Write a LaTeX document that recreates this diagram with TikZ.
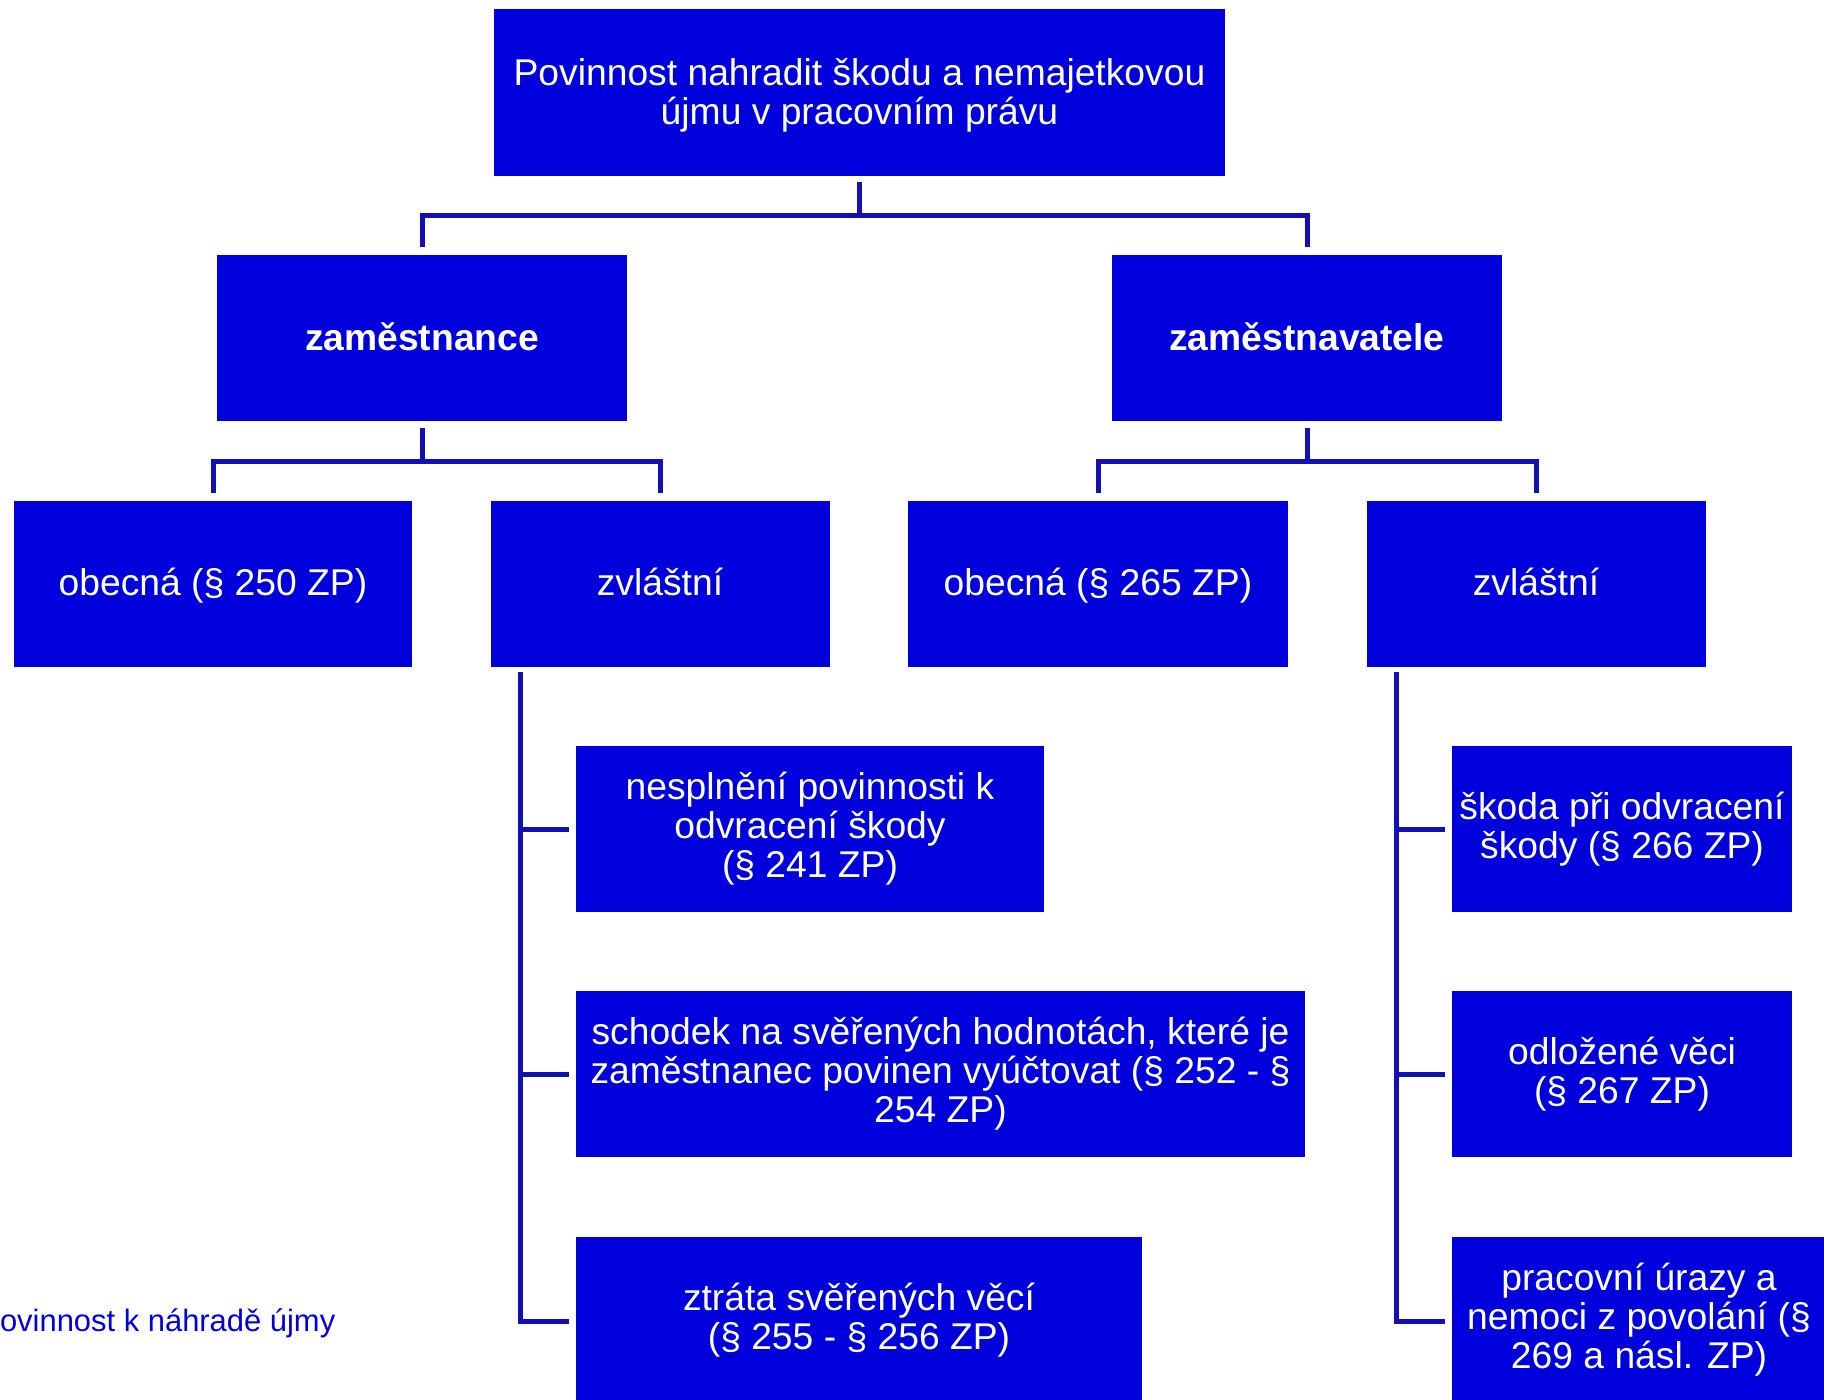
\documentclass[tikz,border=0pt]{standalone}
\usepackage{fontspec}
\setmainfont{Liberation Sans}
\usepackage{tikz}
\usetikzlibrary{calc,positioning}
\definecolor{colorbox}{HTML}{0000DD}
\definecolor{colorln}{HTML}{1010B4}
\tikzset{
  box/.style={fill=colorbox, text=white, inner sep=0pt, align=center, minimum height=1.66cm,
    font=\fontsize{10.6pt}{11.1pt}\selectfont},
  boxone/.style={box, text height=0.32cm, text depth=0.08cm},
  link/.style={colorln, line width=0.05cm}
}

\begin{document}
\begin{tikzpicture}
\useasboundingbox (0,0) rectangle (18.24,-14.00);
\node[box, minimum width=7.31cm, minimum height=1.67cm] (top) at (8.595,-0.925) {};
\node[align=center, text=white, inner sep=0pt, font=\fontsize{10.6pt}{11.1pt}\selectfont] (toptxt) at (8.595,-0.95) {Povinnost nahradit škodu a nemajetkovou\\újmu v pracovním právu};
\node[boxone, minimum width=4.10cm] (zam) at (4.22,-3.38) {\textbf{zaměstnance}};
\node[boxone, minimum width=3.90cm] (zav) at (13.07,-3.38) {\textbf{zaměstnavatele}};
\node[boxone, minimum width=3.98cm] (ob1) at (2.13,-5.835) {obecná (§ 250 ZP)};
\node[boxone, minimum width=3.39cm] (zv1) at (6.60,-5.835) {zvláštní};
\node[boxone, minimum width=3.80cm] (ob2) at (10.98,-5.835) {obecná (§ 265 ZP)};
\node[boxone, minimum width=3.39cm] (zv2) at (15.36,-5.835) {zvláštní};
\node[box, minimum width=4.68cm] (nespl) at (8.10,-8.29) {nesplnění povinnosti k\\odvracení škody\\(§ 241 ZP)};
\node[box, minimum width=7.29cm] (schod) at (9.405,-10.74) {schodek na svěřených hodnotách, které je\\zaměstnanec povinen vyúčtovat (§ 252 - §\\254 ZP)};
\node[box, minimum width=5.66cm] (ztrata) at (8.59,-13.20) {ztráta svěřených věcí\\(§ 255 - § 256 ZP)};
\node[box, minimum width=3.40cm] (skoda) at (16.22,-8.29) {škoda při odvracení\\škody (§ 266 ZP)};
\node[box, minimum width=3.40cm] (odloz) at (16.22,-10.74) {odložené věci\\(§ 267 ZP)};
\node[box, minimum width=3.74cm] (uraz) at (16.39,-13.20) {pracovní úrazy a\\nemoci z povolání (§\\269 a násl. ZP)};
\node[anchor=east, inner sep=0pt, text=colorbox, font=\fontsize{8.8pt}{9pt}\selectfont] (pozn) at (3.36,-13.23) {Povinnost k náhradě újmy};

\draw[link] ([yshift=-0.05cm]top.south) -- ([yshift=-0.39cm]top.south);
\draw[link] ([yshift=0.07cm]zam.north) |- ([yshift=-0.39cm]top.south) -| ([yshift=0.07cm]zav.north);
\draw[link] ([yshift=-0.06cm]zam.south) -- ([yshift=-0.40cm]zam.south);
\draw[link] ([yshift=0.07cm]ob1.north) |- ([yshift=-0.40cm]zam.south) -| ([yshift=0.07cm]zv1.north);
\draw[link] ([yshift=-0.06cm]zav.south) -- ([yshift=-0.40cm]zav.south);
\draw[link] ([yshift=0.07cm]ob2.north) |- ([yshift=-0.40cm]zav.south) -| ([yshift=0.07cm]zv2.north);

\coordinate (bl) at ([xshift=0.31cm,yshift=-0.05cm]zv1.south west);
\draw[link] (bl) |- ([xshift=-0.06cm,yshift=-0.01cm]ztrata.west);
\draw[link] (bl |- nespl.west) -- ([xshift=-0.06cm]nespl.west);
\draw[link] (bl |- schod.west) -- ([xshift=-0.06cm]schod.west);

\coordinate (br) at ([xshift=0.31cm,yshift=-0.05cm]zv2.south west);
\draw[link] (br) |- ([xshift=-0.06cm,yshift=-0.01cm]uraz.west);
\draw[link] (br |- skoda.west) -- ([xshift=-0.06cm]skoda.west);
\draw[link] (br |- odloz.west) -- ([xshift=-0.06cm]odloz.west);
\end{tikzpicture}
\end{document}
